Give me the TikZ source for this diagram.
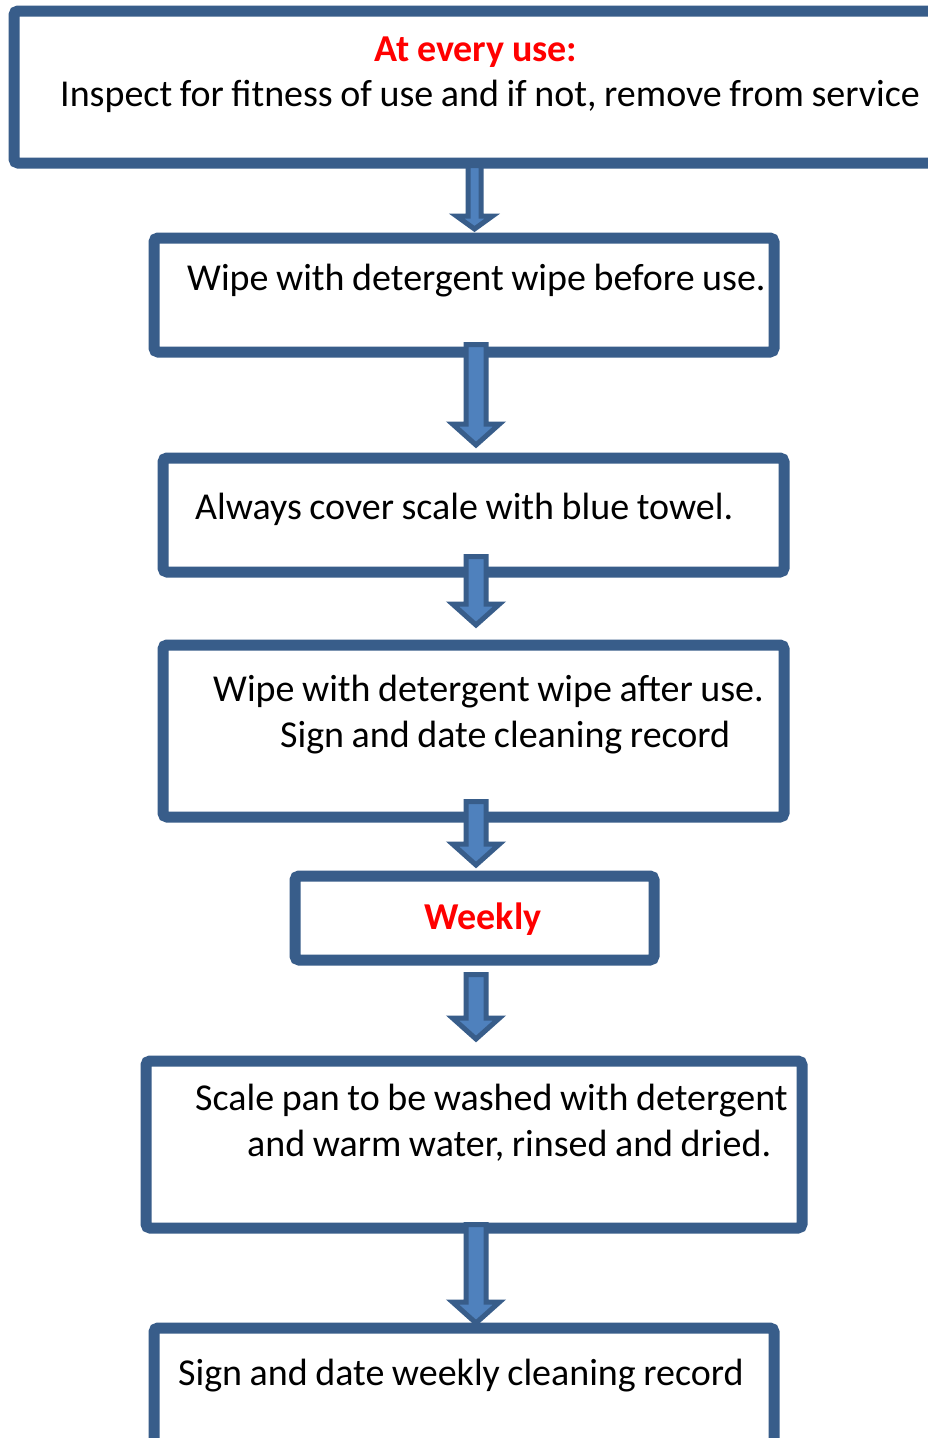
\documentclass[tikz,border=0pt]{standalone}
\usepackage{fontspec}
\setmainfont{Carlito}[WordSpace=0.88]
\usepackage{tikz}
\usetikzlibrary{calc}
\usepackage{xcolor}
\definecolor{boxline}{HTML}{385D8A}
\definecolor{arrowfill}{HTML}{4F81BD}
\definecolor{warn}{HTML}{FF0000}
\tikzset{
	stepbox/.style={draw=boxline, fill=white, line width=11pt, rounded corners=4pt, inner sep=0pt, outer sep=0pt},
	txt/.style={anchor=base west, inner sep=0pt, font=\fontsize{38}{46}\selectfont},
	blockarrow/.style n args={3}{draw=boxline, fill=arrowfill, line width=5pt, line join=miter,
		to path={let \p1=(\tikztostart), \p2=(\tikztotarget) in
			(\x1-#1,\y1) -- (\x1+#1,\y1) -- (\x1+#1,\y2+#3) -- (\x1+#2,\y2+#3) -- (\x1,\y2)
			-- (\x1-#2,\y2+#3) -- (\x1-#1,\y2+#3) -- cycle}},
	bigarrow/.style={blockarrow={10pt}{23.5pt}{21pt}},
	smallarrow/.style={blockarrow={6.5pt}{18pt}{13pt}}
}

\begin{document}
\begin{tikzpicture}[x=1pt, y=-1pt]
		\useasboundingbox (0,0) rectangle (928,1438);
		\clip (0,0) rectangle (928,1438);
		\fill[white] (0,0) rectangle (928,1438);
		\begin{scope}
			%riquadri
			\node[stepbox, minimum width=926, minimum height=152] (inspect) at (477,87) {};
			\node[stepbox, minimum width=620, minimum height=114] (wipebefore) at (464,295) {};
			\node[stepbox, minimum width=621, minimum height=114] (cover) at (473.5,515) {};
			\node[stepbox, minimum width=621, minimum height=172] (wipeafter) at (473.5,731) {};
			\node[stepbox, minimum width=359, minimum height=84] (weekly) at (474.5,918) {};
			\node[stepbox, minimum width=656, minimum height=167] (wash) at (474,1144.5) {};
			\node[stepbox, minimum width=620, minimum height=152] (signweekly) at (464,1404) {};
			%testi
			\node[txt, anchor=base] (tevery) at (476,61) {\textcolor{warn}{\bfseries At every use:}};
			\node[txt] (tinspect) at (60,106) {Inspect for fitness of use and if not, remove from service};
			\node[txt] (tbefore) at (187,290) {Wipe with detergent wipe before use.};
			\node[txt] (tcover) at (195,519) {Always cover scale with blue towel.};
			\node[txt] (tafter) at (213,701) {Wipe with detergent wipe after use.};
			\node[txt] (trecord) at (280,747) {Sign and date cleaning record};
			\node[txt, anchor=base] (tweekly) at (483,929) {\textcolor{warn}{\bfseries Weekly}};
			\node[txt] (twash) at (195,1110) {Scale pan to be washed with detergent};
			\node[txt] (twater) at (247,1156) {and warm water, rinsed and dried.};
			\node[txt] (tsign) at (178,1385) {Sign and date weekly cleaning record};
			%frecce
			\coordinate (asse1) at (474.5,0);
			\coordinate (asse) at (476,0);
			\coordinate (a1s) at ($(inspect.south -| asse1)+(0,2.5)$);
			\coordinate (a1e) at ($(wipebefore.north -| asse1)+(0,-9)$);
			\coordinate (a2s) at ($(wipebefore.south -| asse)+(0,-7.5)$);
			\coordinate (a2e) at ($(cover.north -| asse)+(0,-13)$);
			\coordinate (a3s) at ($(cover.south -| asse)+(0,-15.5)$);
			\coordinate (a3e) at ($(wipeafter.north -| asse)+(0,-20)$);
			\coordinate (a4s) at ($(wipeafter.south -| asse)+(0,-15.5)$);
			\coordinate (a4e) at ($(weekly.north -| asse)+(0,-11)$);
			\coordinate (a5s) at ($(weekly.south -| asse)+(0,14.5)$);
			\coordinate (a5e) at ($(wash.north -| asse)+(0,-22)$);
			\coordinate (a6s) at ($(wash.south -| asse)+(0,-3.5)$);
			\coordinate (a6e) at ($(signweekly.north -| asse)+(0,-5)$);
			\draw[smallarrow] (a1s) to (a1e);
			\draw[bigarrow] (a2s) to (a2e);
			\draw[bigarrow] (a3s) to (a3e);
			\draw[bigarrow] (a4s) to (a4e);
			\draw[bigarrow] (a5s) to (a5e);
			\draw[bigarrow] (a6s) to (a6e);
		\end{scope}
	\end{tikzpicture}
\end{document}
